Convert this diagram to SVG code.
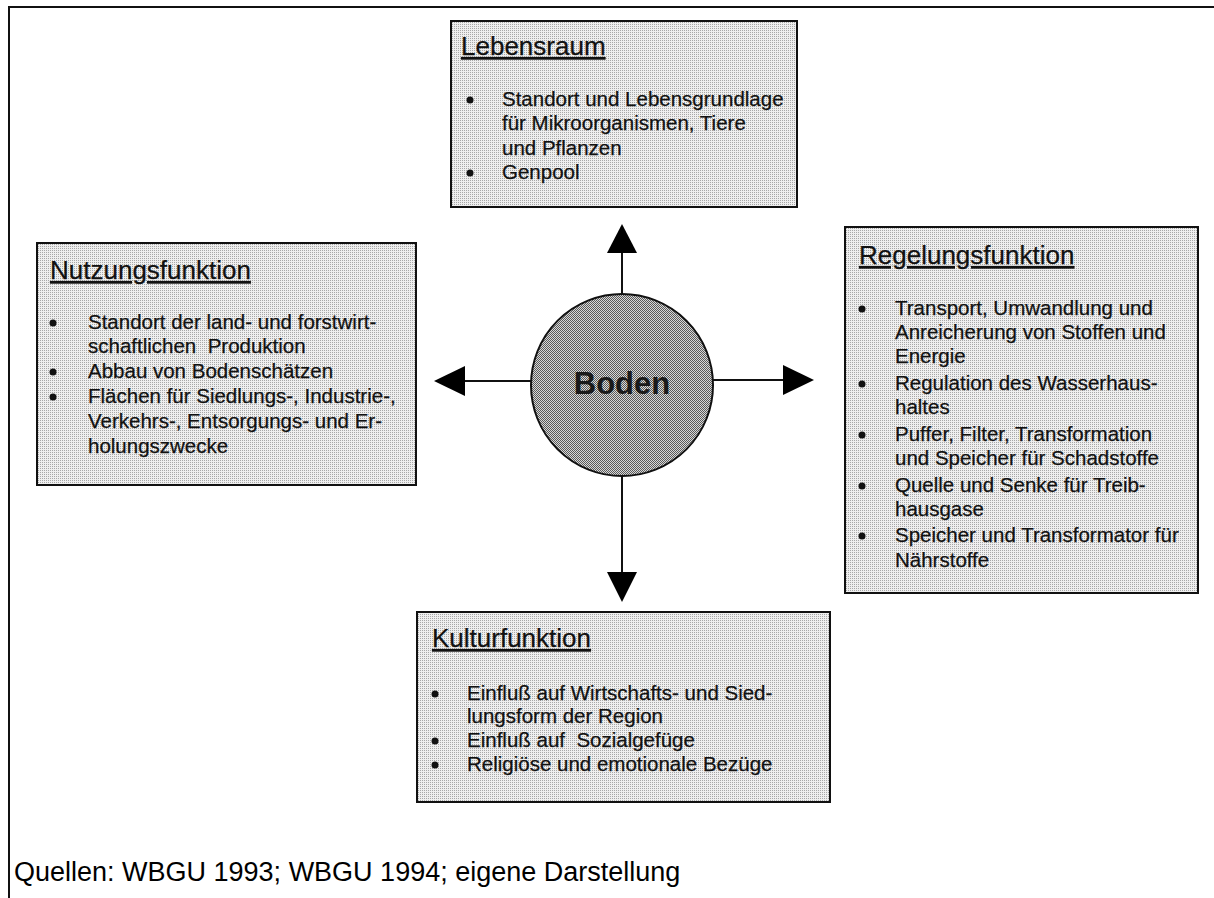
<svg xmlns="http://www.w3.org/2000/svg" width="1214" height="898" viewBox="0 0 1214 898">
<style>
.box{fill:url(#dots);stroke:#111;stroke-width:2}
.t{font-family:"Liberation Sans",Arial,sans-serif;font-size:20.5px;fill:#111;white-space:pre;stroke:#111;stroke-width:0.25}
.h{font-family:"Liberation Sans",Arial,sans-serif;font-size:26px;fill:#111;text-decoration:underline;stroke:#111;stroke-width:0.25}
.b{fill:#111}
.c{stroke:#111;stroke-width:2;fill:none}
.ah{fill:#000}
</style>
<defs>
<pattern id="dots" width="2" height="2" patternUnits="userSpaceOnUse">
<rect width="2" height="2" fill="#efefef"/>
<rect width="1" height="1" fill="#a8a8a8"/>
</pattern>
<pattern id="dark" width="2" height="2" patternUnits="userSpaceOnUse">
<rect width="2" height="2" fill="#d8d8d8"/>
<rect width="1" height="1" fill="#5a5a5a"/>
<rect x="1" y="1" width="1" height="1" fill="#5a5a5a"/>
</pattern>
</defs>
<rect width="1214" height="898" fill="#fff"/>
<g id="frame" class="c">
<path d="M9 898V7H1214"/>
</g>
<g id="connectors">
<line class="c" x1="622" y1="293" x2="622" y2="250"/>
<polygon class="ah" points="622,224 607,253 637,253"/>
<line class="c" x1="531" y1="381" x2="462" y2="381"/>
<polygon class="ah" points="434,381 465,366 465,396"/>
<line class="c" x1="713" y1="380" x2="786" y2="380"/>
<polygon class="ah" points="814,380 783,365 783,395"/>
<line class="c" x1="622" y1="477" x2="622" y2="575"/>
<polygon class="ah" points="622,602 607,572 637,572"/>
</g>
<g id="boden">
<circle cx="622" cy="385" r="91" fill="url(#dark)" stroke="#111" stroke-width="2"/>
<text x="622" y="394" text-anchor="middle" font-family="Liberation Sans, Arial, sans-serif" font-weight="bold" font-size="31" fill="#1a1a1a">Boden</text>
</g>
<g id="lebensraum">
<rect class="box" x="451" y="21" width="346" height="186"/>
<text class="h" x="461" y="55">Lebensraum</text>
<circle class="b" cx="470" cy="100" r="3.5"/>
<text class="t" x="502" y="106">Standort und Lebensgrundlage</text>
<text class="t" x="502" y="130">für Mikroorganismen, Tiere</text>
<text class="t" x="502" y="155">und Pflanzen</text>
<circle class="b" cx="470" cy="173" r="3.5"/>
<text class="t" x="502" y="179">Genpool</text>
</g>
<g id="nutzungsfunktion">
<rect class="box" x="37" y="243" width="379" height="242"/>
<text class="h" x="50" y="279">Nutzungsfunktion</text>
<circle class="b" cx="53" cy="323" r="3.5"/>
<text class="t" x="88" y="329">Standort der land- und forstwirt-</text>
<text class="t" x="88" y="353">schaftlichen  Produktion</text>
<circle class="b" cx="53" cy="372" r="3.5"/>
<text class="t" x="88" y="378">Abbau von Bodenschätzen</text>
<circle class="b" cx="53" cy="397" r="3.5"/>
<text class="t" x="88" y="403">Flächen für Siedlungs-, Industrie-,</text>
<text class="t" x="88" y="428">Verkehrs-, Entsorgungs- und Er-</text>
<text class="t" x="88" y="453">holungszwecke</text>
</g>
<g id="regelungsfunktion">
<rect class="box" x="845" y="227" width="353" height="366"/>
<text class="h" x="859" y="264">Regelungsfunktion</text>
<circle class="b" cx="862" cy="309" r="3.5"/>
<text class="t" x="895" y="315">Transport, Umwandlung und</text>
<text class="t" x="895" y="339">Anreicherung von Stoffen und</text>
<text class="t" x="895" y="363">Energie</text>
<circle class="b" cx="862" cy="384" r="3.5"/>
<text class="t" x="895" y="390">Regulation des Wasserhaus-</text>
<text class="t" x="895" y="414">haltes</text>
<circle class="b" cx="862" cy="435" r="3.5"/>
<text class="t" x="895" y="441">Puffer, Filter, Transformation</text>
<text class="t" x="895" y="465">und Speicher für Schadstoffe</text>
<circle class="b" cx="862" cy="486" r="3.5"/>
<text class="t" x="895" y="492">Quelle und Senke für Treib-</text>
<text class="t" x="895" y="516">hausgase</text>
<circle class="b" cx="862" cy="536" r="3.5"/>
<text class="t" x="895" y="542">Speicher und Transformator für</text>
<text class="t" x="895" y="567">Nährstoffe</text>
</g>
<g id="kulturfunktion">
<rect class="box" x="417" y="612" width="413" height="190"/>
<text class="h" x="432" y="647">Kulturfunktion</text>
<circle class="b" cx="435" cy="694" r="3.5"/>
<text class="t" x="467" y="700">Einfluß auf Wirtschafts- und Sied-</text>
<text class="t" x="467" y="723">lungsform der Region</text>
<circle class="b" cx="435" cy="741" r="3.5"/>
<text class="t" x="467" y="747">Einfluß auf  Sozialgefüge</text>
<circle class="b" cx="435" cy="765" r="3.5"/>
<text class="t" x="467" y="771">Religiöse und emotionale Bezüge</text>
</g>
<g id="quellen">
<text x="14" y="881" font-family="Liberation Sans, Arial, sans-serif" font-size="27" fill="#000">Quellen: WBGU 1993; WBGU 1994; eigene Darstellung</text>
</g>
</svg>
